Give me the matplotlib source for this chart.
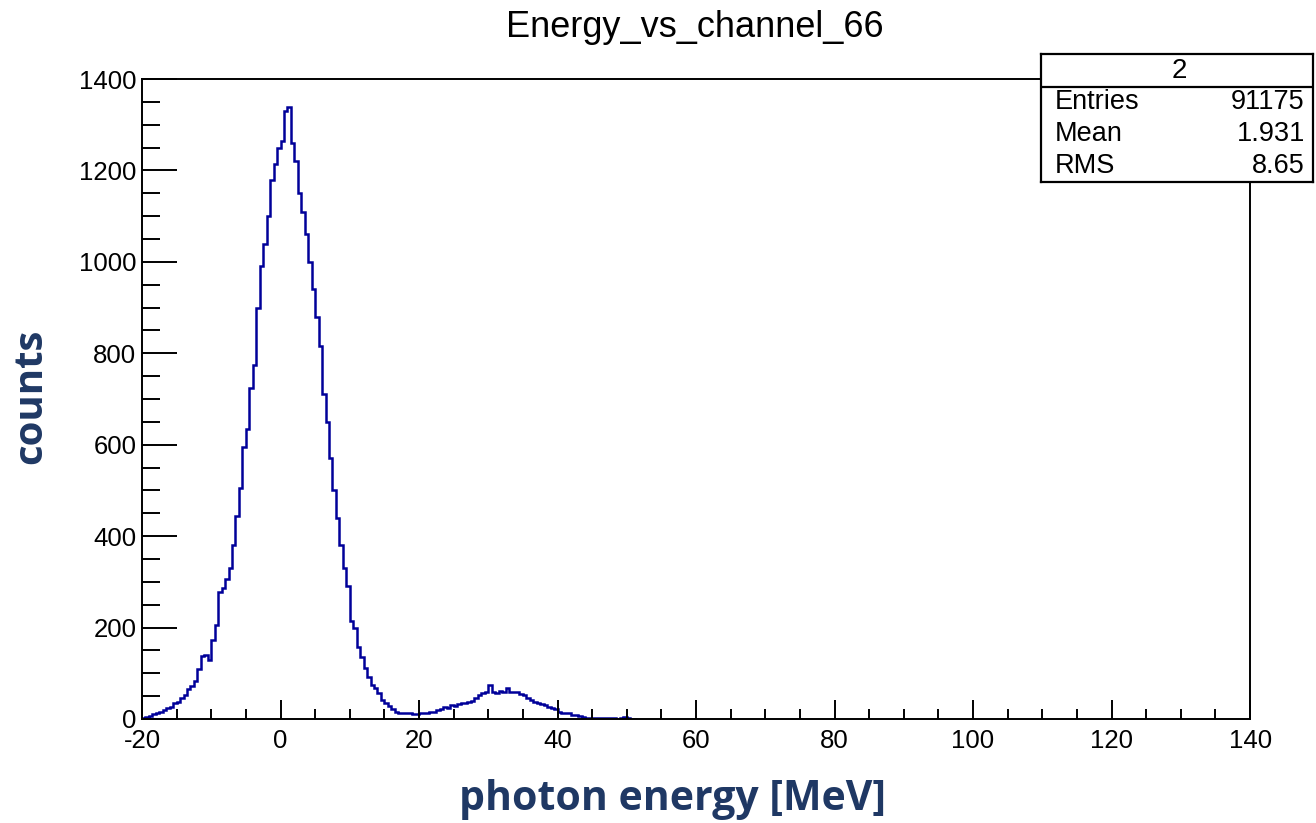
import matplotlib
matplotlib.use("Agg")
import matplotlib.pyplot as plt
import numpy as np

plt.rcParams['font.family'] = ['Liberation Sans', 'DejaVu Sans']
plt.rcParams['axes.unicode_minus'] = False

# histogram contents, 0.5 MeV bins starting at -20 MeV
bin_start = -20.0
bin_width = 0.5
counts = [
    3, 4, 6, 10, 14, 16, 20, 24, 27, 34,
    38, 46, 52, 66, 72, 82, 110, 138, 140, 128,
    172, 205, 278, 286, 306, 330, 380, 445, 505, 595,
    635, 725, 775, 900, 990, 1040, 1100, 1180, 1215, 1250,
    1265, 1330, 1338, 1260, 1220, 1150, 1110, 1060, 1000, 940,
    880, 815, 710, 650, 570, 500, 440, 380, 330, 290,
    215, 200, 158, 136, 112, 92, 75, 68, 57, 42,
    35, 28, 22, 16, 14, 13, 12, 12, 11, 11,
    12, 12, 14, 16, 15, 20, 22, 27, 25, 30,
    28, 32, 35, 34, 38, 40, 46, 52, 57, 60,
    75, 60, 57, 62, 58, 68, 60, 58, 60, 55,
    52, 46, 42, 38, 36, 32, 30, 26, 24, 22,
    16, 13, 13, 12, 9, 8, 6, 4, 3, 2,
    2, 2, 2, 2, 2, 2, 2, 1, 2, 4,
    3, 1, 0,
]
edges = bin_start + bin_width * np.arange(len(counts) + 1)

title = "Energy_vs_channel_66"
stat_name = "2"
stat_labels = ["Entries", "Mean", "RMS"]
stat_values = ["91175", "1.931", "8.65"]

navy = "#1f3864"

fig = plt.figure(figsize=(13.16, 8.23), dpi=100)
ax = fig.add_axes([0.1079, 0.1264, 0.8420, 0.7776])

ax.stairs(counts, edges, color="#000099", lw=1.8)

ax.set_xlim(-20, 140)
ax.set_ylim(0, 1400)
ax.set_xticks(np.arange(-20, 141, 20))
ax.set_xticks(np.arange(-20, 141, 5), minor=True)
ax.set_yticks(np.arange(0, 1401, 200))
ax.set_yticks(np.arange(0, 1401, 50), minor=True)
ax.tick_params(axis="x", which="both", direction="in", top=False, labelsize=18.5, pad=7, width=1.4)
ax.tick_params(axis="x", which="major", length=14)
ax.tick_params(axis="x", which="minor", length=7)
ax.tick_params(axis="y", which="both", direction="in", right=False, labelsize=18.5, pad=4, width=1.4)
ax.tick_params(axis="y", which="major", length=25)
ax.tick_params(axis="y", which="minor", length=13)
for s in ax.spines.values():
    s.set_linewidth(1.4)

fig.text(0.528, 0.967, title, ha="center", va="center", fontsize=26)

fig.text(0.023, 0.519, "counts", rotation=90, ha="center", va="center",
         fontsize=29, fontweight="bold", color=navy, family=["Open Sans", "DejaVu Sans"])
fig.text(0.511, 0.028, "photon energy [MeV]", ha="center", va="center",
         fontsize=29.5, fontweight="bold", color=navy, family=["Open Sans", "DejaVu Sans"])

# stats box
box = fig.add_axes([0.791, 0.7789, 0.2067, 0.1555])
box.set_xlim(0, 1)
box.set_ylim(0, 1)
box.set_xticks([])
box.set_yticks([])
for s in box.spines.values():
    s.set_linewidth(1.6)
box.axhline(0.742, color="black", lw=1.6)
box.text(0.51, 0.87, stat_name, ha="center", va="center", fontsize=20)
rows_y = [0.625, 0.375, 0.125]
for lab, val, yy in zip(stat_labels, stat_values, rows_y):
    box.text(0.05, yy, lab, ha="left", va="center", fontsize=19.5)
    box.text(0.97, yy, val, ha="right", va="center", fontsize=19.5)

fig.savefig("out.png", dpi=100)
